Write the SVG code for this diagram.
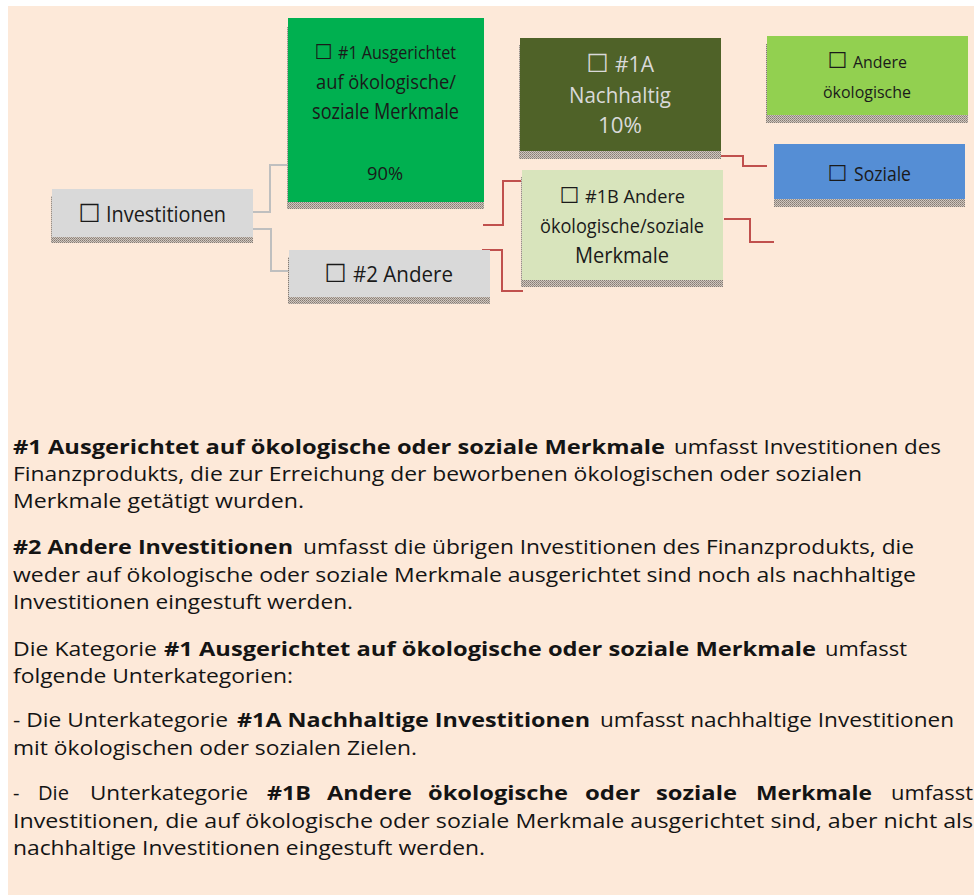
<svg xmlns="http://www.w3.org/2000/svg" width="974" height="896" viewBox="0 0 974 896">
<defs>
<pattern id="hatch" width="2" height="2" patternUnits="userSpaceOnUse">
<rect width="2" height="2" fill="#CFC6BE"/>
<rect width="1" height="1" fill="#857B73"/>
<rect x="1" y="1" width="1" height="1" fill="#9A9088"/>
</pattern>
</defs>
<style>
.sh{fill:url(#hatch)}
.t{font-family:"Open Sans","Noto Sans","DejaVu Sans",sans-serif;fill:#1a1a1a}
.lt{fill:#D9D9D9}
.bx{font-family:"DejaVu Sans",sans-serif}
.body{font-family:"Open Sans","Noto Sans",sans-serif;font-size:20px;fill:#141414}
.b{font-weight:700}
.cg{fill:none;stroke:#BFBFBF;stroke-width:2}
.cr{fill:none;stroke:#C0504D;stroke-width:2}
</style>
<rect x="8" y="6" width="966" height="889" fill="#FDE9D9"/>

<g id="connectors">
<path class="cg" d="M253,212 H270 V165 H288"/>
<path class="cg" d="M253,229 H271 V271 H289"/>
<path class="cr" d="M483,225 H503 V181 H522"/>
<path class="cr" d="M482,250 H502 V291 H523"/>
<path class="cr" d="M721,156 H743 V166 H767"/>
<path class="cr" d="M724,219 H750 V242 H774"/>
</g>

<g id="investitionen">
<rect class="sh" x="51" y="196" width="202" height="47"/>
<rect x="52" y="189" width="201" height="48" fill="#D9D9D9"/>
<text class="t" font-size="22"><tspan class="bx" font-size="25" x="78.5" y="222">☐</tspan> <tspan x="106" y="222" textLength="120" lengthAdjust="spacingAndGlyphs">Investitionen</tspan></text>
</g>

<g id="n1">
<rect class="sh" x="287" y="27" width="197" height="182"/>
<rect x="288" y="18" width="196" height="184" fill="#00B050"/>
<text class="t" font-size="18"><tspan class="bx" font-size="20.5" x="314.5" y="59">☐</tspan> <tspan x="338" y="59" textLength="118" lengthAdjust="spacingAndGlyphs">#1 Ausgerichtet</tspan></text>
<text class="t" font-size="20" x="316" y="89" textLength="140" lengthAdjust="spacingAndGlyphs">auf ökologische/</text>
<text class="t" font-size="21" x="312" y="119" textLength="147" lengthAdjust="spacingAndGlyphs">soziale Merkmale</text>
<text class="t" font-size="19" x="367" y="180" textLength="36" lengthAdjust="spacingAndGlyphs">90%</text>
</g>

<g id="n1a">
<rect class="sh" x="519" y="45" width="202" height="114"/>
<rect x="520" y="38" width="201" height="113" fill="#4F6228"/>
<text class="t lt" font-size="21"><tspan class="bx" font-size="25" x="586.5" y="72">☐</tspan> <tspan x="615" y="72" textLength="39" lengthAdjust="spacingAndGlyphs">#1A</tspan></text>
<text class="t lt" font-size="22" x="569" y="103" textLength="102" lengthAdjust="spacingAndGlyphs">Nachhaltig</text>
<text class="t lt" font-size="21" x="598" y="133" textLength="44" lengthAdjust="spacingAndGlyphs">10%</text>
</g>

<g id="n1b">
<rect class="sh" x="521" y="177" width="202" height="110"/>
<rect x="522" y="170" width="201" height="110" fill="#D8E4BC"/>
<text class="t" font-size="19"><tspan class="bx" font-size="22" x="559.5" y="203">☐</tspan> <tspan x="585" y="203" textLength="100" lengthAdjust="spacingAndGlyphs">#1B Andere</tspan></text>
<text class="t" font-size="19.5" x="540" y="233" textLength="164" lengthAdjust="spacingAndGlyphs">ökologische/soziale</text>
<text class="t" font-size="21" x="575" y="263" textLength="94" lengthAdjust="spacingAndGlyphs">Merkmale</text>
</g>

<g id="n2">
<rect class="sh" x="288" y="257" width="202" height="47"/>
<rect x="289" y="250" width="201" height="47" fill="#D9D9D9"/>
<text class="t" font-size="21"><tspan class="bx" font-size="25" x="324.5" y="282">☐</tspan> <tspan x="353" y="282" textLength="100" lengthAdjust="spacingAndGlyphs">#2 Andere</tspan></text>
</g>

<g id="andere-oekologische">
<rect class="sh" x="766" y="44" width="202" height="79"/>
<rect x="767" y="36" width="201" height="79" fill="#92D050"/>
<text class="t" font-size="16.5"><tspan class="bx" font-size="22" x="827.5" y="68">☐</tspan> <tspan x="853" y="68" textLength="54" lengthAdjust="spacingAndGlyphs">Andere</tspan></text>
<text class="t" font-size="16.5" x="823" y="98" textLength="88" lengthAdjust="spacingAndGlyphs">ökologische</text>
</g>

<g id="soziale">
<rect class="sh" x="774" y="152" width="191" height="55"/>
<rect x="774" y="144" width="191" height="55" fill="#558ED5"/>
<text class="t" font-size="19.5"><tspan class="bx" font-size="22" x="827.5" y="181">☐</tspan> <tspan x="854" y="181" textLength="57" lengthAdjust="spacingAndGlyphs">Soziale</tspan></text>
</g>

<g id="text">
<text class="body"><tspan class="b" x="13" y="454" textLength="652" lengthAdjust="spacingAndGlyphs">#1 Ausgerichtet auf ökologische oder soziale Merkmale</tspan> <tspan x="674" y="454" textLength="267" lengthAdjust="spacingAndGlyphs">umfasst Investitionen des</tspan></text>
<text class="body" x="13" y="481" textLength="849" lengthAdjust="spacingAndGlyphs">Finanzprodukts, die zur Erreichung der beworbenen ökologischen oder sozialen</text>
<text class="body" x="13" y="508" textLength="291" lengthAdjust="spacingAndGlyphs">Merkmale getätigt wurden.</text>

<text class="body"><tspan class="b" x="13" y="554" textLength="280" lengthAdjust="spacingAndGlyphs">#2 Andere Investitionen</tspan> <tspan x="303" y="554" textLength="611" lengthAdjust="spacingAndGlyphs">umfasst die übrigen Investitionen des Finanzprodukts, die</tspan></text>
<text class="body" x="13" y="582" textLength="903" lengthAdjust="spacingAndGlyphs">weder auf ökologische oder soziale Merkmale ausgerichtet sind noch als nachhaltige</text>
<text class="body" x="13" y="609" textLength="340" lengthAdjust="spacingAndGlyphs">Investitionen eingestuft werden.</text>

<text class="body"><tspan x="13" y="656" textLength="144" lengthAdjust="spacingAndGlyphs">Die Kategorie</tspan> <tspan class="b" x="164" y="656" textLength="652" lengthAdjust="spacingAndGlyphs">#1 Ausgerichtet auf ökologische oder soziale Merkmale</tspan> <tspan x="825" y="656" textLength="82" lengthAdjust="spacingAndGlyphs">umfasst</tspan></text>
<text class="body" x="13" y="683" textLength="280" lengthAdjust="spacingAndGlyphs">folgende Unterkategorien:</text>

<text class="body"><tspan x="13" y="727" textLength="215" lengthAdjust="spacingAndGlyphs">- Die Unterkategorie</tspan> <tspan class="b" x="237" y="727" textLength="353" lengthAdjust="spacingAndGlyphs">#1A Nachhaltige Investitionen</tspan> <tspan x="600" y="727" textLength="354" lengthAdjust="spacingAndGlyphs">umfasst nachhaltige Investitionen</tspan></text>
<text class="body" x="13" y="755" textLength="404" lengthAdjust="spacingAndGlyphs">mit ökologischen oder sozialen Zielen.</text>

<text class="body"><tspan x="13" y="800">-</tspan> <tspan x="38" y="800" textLength="31" lengthAdjust="spacingAndGlyphs">Die</tspan> <tspan x="90" y="800" textLength="158" lengthAdjust="spacingAndGlyphs">Unterkategorie</tspan> <tspan class="b" x="267" y="800" textLength="44" lengthAdjust="spacingAndGlyphs">#1B</tspan> <tspan class="b" x="327" y="800" textLength="85" lengthAdjust="spacingAndGlyphs">Andere</tspan> <tspan class="b" x="428" y="800" textLength="140" lengthAdjust="spacingAndGlyphs">ökologische</tspan> <tspan class="b" x="585" y="800" textLength="55" lengthAdjust="spacingAndGlyphs">oder</tspan> <tspan class="b" x="656" y="800" textLength="81" lengthAdjust="spacingAndGlyphs">soziale</tspan> <tspan class="b" x="756" y="800" textLength="116" lengthAdjust="spacingAndGlyphs">Merkmale</tspan> <tspan x="891" y="800" textLength="82" lengthAdjust="spacingAndGlyphs">umfasst</tspan></text>
<text class="body" x="13" y="828" textLength="960" lengthAdjust="spacingAndGlyphs">Investitionen, die auf ökologische oder soziale Merkmale ausgerichtet sind, aber nicht als</text>
<text class="body" x="13" y="855" textLength="472" lengthAdjust="spacingAndGlyphs">nachhaltige Investitionen eingestuft werden.</text>
</g>
</svg>
